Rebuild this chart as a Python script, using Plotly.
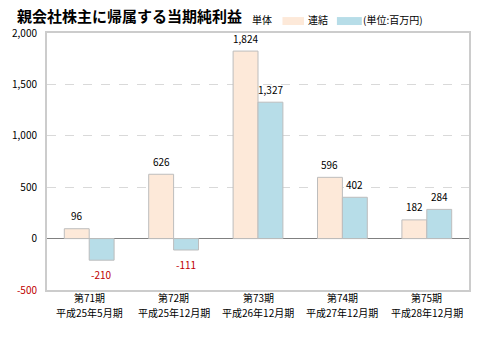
import plotly.graph_objects as go

# Fiscal periods (two-line category labels)
periods = ["第71期<br>平成25年5月期", "第72期<br>平成25年12月期", "第73期<br>平成26年12月期",
           "第74期<br>平成27年12月期", "第75期<br>平成28年12月期"]
# Net income attributable to owners of parent (百万円)
tantai = [96, 626, 1824, 596, 182]
renketsu = [-210, -111, 1327, 402, 284]

y_ticks = [-500, 0, 500, 1000, 1500, 2000]

FONT = "Noto Sans CJK JP"
POS_COLOR = "#000000"
NEG_COLOR = "#C00000"
BAR_HALF = 12.5  # half bar width in px, for centring value labels over each bar


def fmt(v):
    return f"{v:,}"


fig = go.Figure()
fig.add_trace(go.Bar(
    x=periods, y=tantai, name="単体",
    marker=dict(color="#FDE9D9", line=dict(color="#BDBDBD", width=1)),
    hoverinfo="skip",
))
fig.add_trace(go.Bar(
    x=periods, y=renketsu, name="連結",
    marker=dict(color="#B7DDE8", line=dict(color="#BDBDBD", width=1)),
    hoverinfo="skip",
))

# Value labels above positive bars / below negative bars
for series, dx in ((tantai, -BAR_HALF), (renketsu, BAR_HALF)):
    for cat, v in zip(periods, series):
        fig.add_annotation(
            x=cat, y=v, xshift=dx, yshift=13 if v >= 0 else -14,
            text=fmt(v), showarrow=False, xanchor="center", yanchor="middle",
            font=dict(size=10, family=FONT, color=NEG_COLOR if v < 0 else POS_COLOR),
        )

# Category labels, drawn line by line for a roomier line spacing
for cat in periods:
    for i, line in enumerate(cat.split("<br>")):
        fig.add_annotation(
            x=cat, xref="x", y=0, yref="paper", yshift=-7 - 15 * i,
            text=line, showarrow=False, xanchor="center", yanchor="middle",
            font=dict(size=10, family=FONT, color="#000000"),
        )

tick_text = [f'<span style="color:{NEG_COLOR}">{fmt(v)}</span>' if v < 0 else fmt(v) for v in y_ticks]

fig.update_layout(
    width=483, height=341,
    margin=dict(l=45, r=13, t=33, b=51),
    paper_bgcolor="white", plot_bgcolor="white",
    barmode="group", bargap=0.41, bargroupgap=0,
    showlegend=False,
    font=dict(family=FONT, size=10, color="#000000"),
)
fig.update_xaxes(
    showline=True, linecolor="#CCCCCC", linewidth=2, mirror=True,
    showgrid=False, ticks="", showticklabels=False,
)
fig.update_yaxes(
    range=[-500, 2000], tickvals=y_ticks, ticktext=tick_text,
    showline=True, linecolor="#CCCCCC", linewidth=2, mirror=True,
    showgrid=True, gridcolor="#D9D9D9", griddash="dash", gridwidth=1,
    zeroline=True, zerolinecolor="#808080", zerolinewidth=1,
    ticks="", ticklabelstandoff=6, tickfont=dict(size=10, family=FONT),
)

# Title and manual legend row
fig.add_annotation(xref="paper", yref="paper", x=-0.075, y=1.070, xanchor="left", yanchor="middle",
                   text="<b>親会社株主に帰属する当期純利益</b>", showarrow=False,
                   font=dict(size=15, family=FONT, color="#000000"))
fig.add_annotation(xref="paper", yref="paper", x=0.480, y=1.051, xanchor="left", yanchor="middle",
                   text="単体", showarrow=False, font=dict(size=10, family=FONT))
fig.add_shape(type="rect", xref="paper", yref="paper", x0=0.558, x1=0.609, y0=1.031, y1=1.062,
              fillcolor="#FDE9D9", line=dict(width=0))
fig.add_annotation(xref="paper", yref="paper", x=0.614, y=1.051, xanchor="left", yanchor="middle",
                   text="連結", showarrow=False, font=dict(size=10, family=FONT))
fig.add_shape(type="rect", xref="paper", yref="paper", x0=0.687, x1=0.746, y0=1.031, y1=1.062,
              fillcolor="#B7DDE8", line=dict(width=0))
fig.add_annotation(xref="paper", yref="paper", x=0.744, y=1.051, xanchor="left", yanchor="middle",
                   text="(単位:百万円)", showarrow=False, font=dict(size=10, family=FONT))

fig.write_html("out.html")
